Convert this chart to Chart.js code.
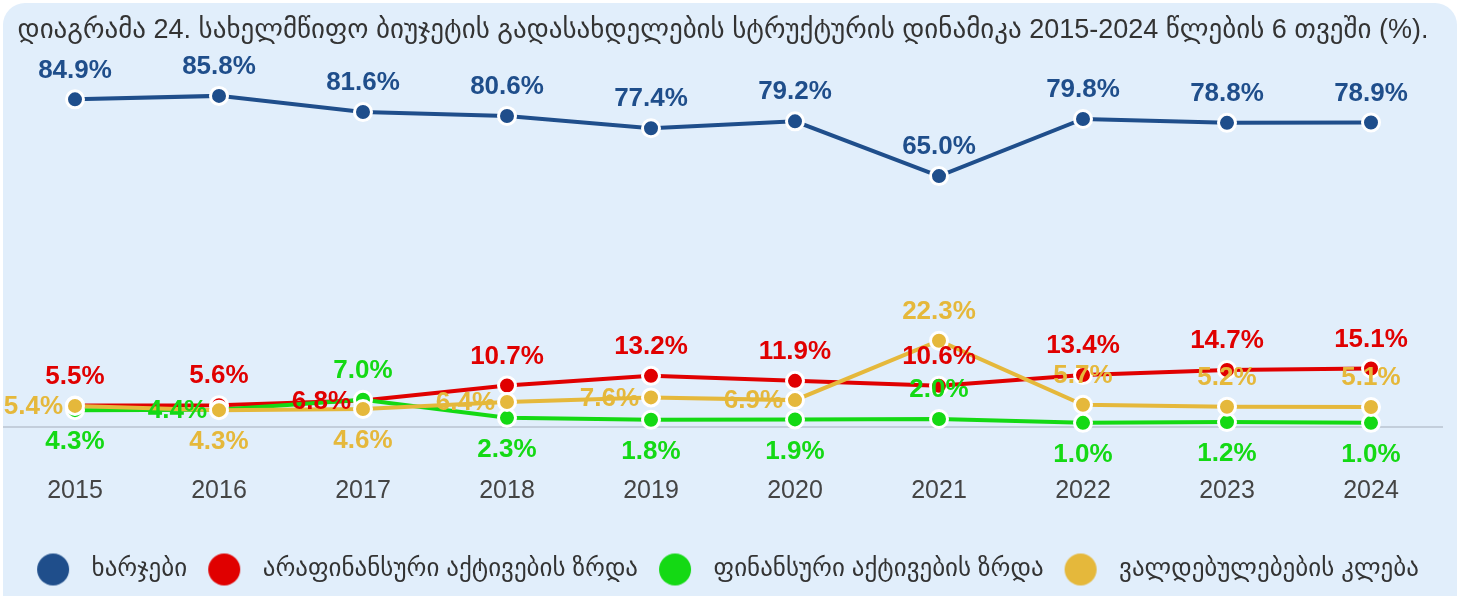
<!DOCTYPE html>
<html><head><meta charset="utf-8">
<script src="https://cdn.jsdelivr.net/npm/chart.js@4.4.1/dist/chart.umd.min.js"></script>
<style>
html,body{margin:0;padding:0;background:#fff;width:1460px;height:596px;overflow:hidden}
#card{position:absolute;left:3px;top:3px;width:1454px;height:620px;border-radius:22px;background:#e1eefb}
#wrap{position:absolute;left:0;top:0;width:1460px;height:596px}
</style></head><body>
<div id="card"></div>
<div id="wrap"><canvas id="c" width="1460" height="596"></canvas></div>
<script>
const years = ['2015','2016','2017','2018','2019','2020','2021','2022','2023','2024'];
const expenses     = [84.9, 85.8, 81.6, 80.6, 77.4, 79.2, 65.0, 79.8, 78.8, 78.9];
const nonFinAssets = [5.5, 5.6, 6.8, 10.7, 13.2, 11.9, 10.6, 13.4, 14.7, 15.1];
const finAssets    = [4.3, 4.4, 7.0, 2.3, 1.8, 1.9, 2.0, 1.0, 1.2, 1.0];
const liabilities  = [5.4, 4.3, 4.6, 6.4, 7.6, 6.9, 22.3, 5.7, 5.2, 5.1];
const seriesNames = ['ხარჯები', 'არაფინანსური აქტივების ზრდა', 'ფინანსური აქტივების ზრდა', 'ვალდებულებების კლება'];
const titleText = 'დიაგრამა 24. სახელმწიფო ბიუჯეტის გადასახდელების სტრუქტურის დინამიკა 2015-2024 წლების 6 თვეში (%).';

const colors = ['#1f4e8b', '#e00000', '#14d914', '#e5b83b'];
// label placement per series (top / bottom / left of the point)
const labelPos = [
  ['top','top','top','top','top','top','top','top','top','top'],
  ['top','top','left','top','top','top','top','top','top','top'],
  ['bottom','left','top','bottom','bottom','bottom','top','bottom','bottom','bottom'],
  ['left','bottom','bottom','left','left','left','top','top','top','top']
];
const FONT = "'Liberation Sans', 'DejaVu Sans', Arial, sans-serif";

function dot(color){
  const c = document.createElement('canvas');
  c.width = 34; c.height = 34;
  const g = c.getContext('2d');
  g.fillStyle = color;
  g.beginPath(); g.arc(17,17,16,0,Math.PI*2); g.fill();
  return c;
}
const dots = colors.map(dot);

const labelPlugin = {
  id: 'valueLabels',
  afterDatasetsDraw(chart){
    const ctx = chart.ctx;
    ctx.save();
    ctx.font = 'bold 26px ' + FONT;
    chart.data.datasets.forEach((ds, di) => {
      const meta = chart.getDatasetMeta(di);
      meta.data.forEach((pt, i) => {
        const pos = labelPos[di][i];
        const txt = ds.data[i].toFixed(1) + '%';
        ctx.fillStyle = colors[di];
        ctx.textBaseline = 'middle';
        if (pos === 'top') { ctx.textAlign = 'center'; ctx.fillText(txt, pt.x, pt.y - 29); }
        else if (pos === 'bottom') { ctx.textAlign = 'center'; ctx.fillText(txt, pt.x, pt.y + 32); }
        else { ctx.textAlign = 'right'; ctx.fillText(txt, pt.x - 12, pt.y + 1); }
      });
    });
    ctx.restore();
  }
};

const seriesData = [expenses, nonFinAssets, finAssets, liabilities];
const drawOrder = [3, 2, 1, 0];

new Chart(document.getElementById('c'), {
  type: 'line',
  data: {
    labels: years,
    datasets: seriesData.map((d, i) => ({
      label: seriesNames[i],
      data: d,
      borderColor: colors[i],
      backgroundColor: colors[i],
      borderWidth: 4,
      pointRadius: 8.5,
      pointHoverRadius: 8.5,
      pointBorderWidth: 3,
      pointBorderColor: '#ffffff',
      pointBackgroundColor: colors[i],
      tension: 0,
      clip: false,
      order: drawOrder[i]
    }))
  },
  options: {
    responsive: false,
    animation: false,
    devicePixelRatio: 1,
    layout: { autoPadding: false, padding: { left: 3, right: 17, top: 0, bottom: 4 } },
    plugins: {
      title: {
        display: true, text: titleText, color: '#333',
        font: { family: FONT, size: 27, weight: 'normal' },
        padding: { top: 14, bottom: 14 }
      },
      legend: {
        position: 'bottom',
        labels: {
          usePointStyle: true,
          pointStyleWidth: 52,
          padding: 11,
          color: '#333',
          font: { family: FONT, size: 25 },
          sort: (a, b) => a.datasetIndex - b.datasetIndex,
          generateLabels(chart){
            const items = Chart.defaults.plugins.legend.labels.generateLabels(chart);
            items.forEach(it => { it.pointStyle = dots[it.datasetIndex]; });
            return items;
          }
        }
      },
      tooltip: { enabled: false }
    },
    scales: {
      x: {
        offset: true,
        grid: { display: false, drawTicks: false },
        border: { display: false },
        ticks: { color: '#444', font: { family: FONT, size: 25 }, padding: 3 },
        afterFit(scale){ scale.height += 37; }
      },
      y: {
        min: -12, max: 95,
        afterBuildTicks(scale){ scale.ticks = [{ value: 0 }]; },
        afterFit(scale){ scale.width = 0; },
        grid: { color: '#c3cedb', lineWidth: 2, drawTicks: false },
        border: { display: false },
        ticks: { display: false }
      }
    }
  },
  plugins: [labelPlugin]
});
</script>
</body></html>
